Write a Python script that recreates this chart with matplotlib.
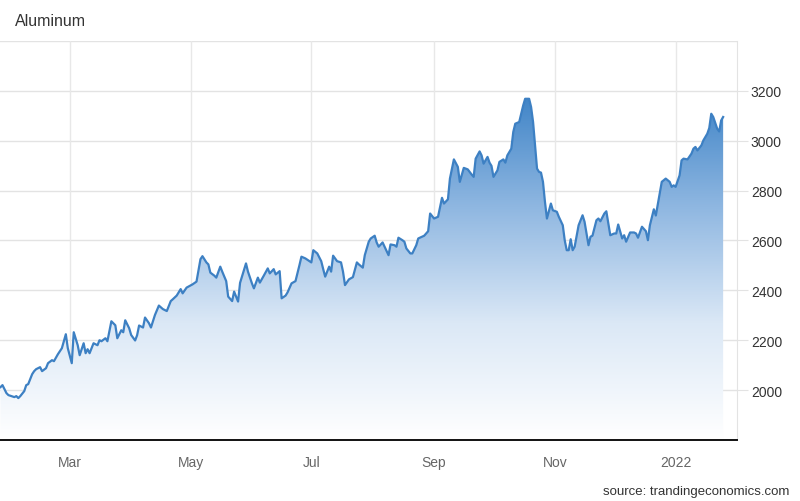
import numpy as np
import pandas as pd
import matplotlib
matplotlib.use('Agg')
import matplotlib.pyplot as plt
import matplotlib.dates as mdates
from matplotlib.colors import LinearSegmentedColormap

plt.rcParams['font.family'] = ['Liberation Sans', 'DejaVu Sans']

# Aluminum, USD/T, daily
dates = [
    '2021-01-25', '2021-01-26', '2021-01-28', '2021-01-29',
    '2021-02-01', '2021-02-02', '2021-02-03', '2021-02-04', '2021-02-06', '2021-02-07', '2021-02-08',
    '2021-02-10', '2021-02-11', '2021-02-12', '2021-02-14', '2021-02-15', '2021-02-17', '2021-02-18',
    '2021-02-20', '2021-02-21', '2021-02-23', '2021-02-24', '2021-02-25', '2021-02-27', '2021-02-28',
    '2021-03-02', '2021-03-03', '2021-03-05', '2021-03-06', '2021-03-08', '2021-03-09', '2021-03-10',
    '2021-03-11', '2021-03-13', '2021-03-15', '2021-03-16', '2021-03-17', '2021-03-19', '2021-03-20',
    '2021-03-22', '2021-03-24', '2021-03-25', '2021-03-27', '2021-03-28', '2021-03-29', '2021-03-31',
    '2021-04-01', '2021-04-03', '2021-04-04', '2021-04-05', '2021-04-07', '2021-04-08', '2021-04-10',
    '2021-04-11', '2021-04-13', '2021-04-15', '2021-04-17', '2021-04-19', '2021-04-21', '2021-04-22',
    '2021-04-24', '2021-04-26', '2021-04-27', '2021-04-29',
    '2021-05-02', '2021-05-04', '2021-05-06', '2021-05-07', '2021-05-09', '2021-05-10', '2021-05-11',
    '2021-05-13', '2021-05-14', '2021-05-16', '2021-05-17', '2021-05-19', '2021-05-20', '2021-05-22',
    '2021-05-23', '2021-05-25', '2021-05-26', '2021-05-29', '2021-05-30',
    '2021-06-01', '2021-06-02', '2021-06-04', '2021-06-05', '2021-06-07', '2021-06-09', '2021-06-10',
    '2021-06-12', '2021-06-13', '2021-06-15', '2021-06-16', '2021-06-18', '2021-06-19', '2021-06-21',
    '2021-06-23', '2021-06-25', '2021-06-26', '2021-06-28',
    '2021-07-01', '2021-07-02', '2021-07-04', '2021-07-06', '2021-07-07', '2021-07-08', '2021-07-10',
    '2021-07-11', '2021-07-12', '2021-07-14', '2021-07-16', '2021-07-17', '2021-07-18', '2021-07-20',
    '2021-07-22', '2021-07-24', '2021-07-25', '2021-07-27', '2021-07-28', '2021-07-30', '2021-07-31',
    '2021-08-02', '2021-08-03', '2021-08-04', '2021-08-06', '2021-08-07', '2021-08-09', '2021-08-10',
    '2021-08-12', '2021-08-13', '2021-08-14', '2021-08-16', '2021-08-17', '2021-08-18', '2021-08-20',
    '2021-08-21', '2021-08-23', '2021-08-24', '2021-08-27', '2021-08-29', '2021-08-30',
    '2021-09-01', '2021-09-03', '2021-09-05', '2021-09-06', '2021-09-08', '2021-09-09', '2021-09-11',
    '2021-09-13', '2021-09-14', '2021-09-16', '2021-09-18', '2021-09-20', '2021-09-21', '2021-09-22',
    '2021-09-24', '2021-09-25', '2021-09-26', '2021-09-28', '2021-09-29', '2021-09-30',
    '2021-10-01', '2021-10-03', '2021-10-04', '2021-10-06', '2021-10-07', '2021-10-08', '2021-10-10',
    '2021-10-11', '2021-10-12', '2021-10-14', '2021-10-15', '2021-10-16', '2021-10-17', '2021-10-19',
    '2021-10-20', '2021-10-21', '2021-10-23', '2021-10-24', '2021-10-25', '2021-10-26', '2021-10-27',
    '2021-10-28', '2021-10-30', '2021-10-31',
    '2021-11-02', '2021-11-03', '2021-11-05', '2021-11-06', '2021-11-07', '2021-11-08', '2021-11-09',
    '2021-11-10', '2021-11-11', '2021-11-13', '2021-11-15', '2021-11-16', '2021-11-18', '2021-11-19',
    '2021-11-20', '2021-11-22', '2021-11-23', '2021-11-24', '2021-11-26', '2021-11-27', '2021-11-29',
    '2021-12-01', '2021-12-02', '2021-12-03', '2021-12-05', '2021-12-06', '2021-12-07', '2021-12-09',
    '2021-12-11', '2021-12-12', '2021-12-13', '2021-12-15', '2021-12-17', '2021-12-18', '2021-12-19',
    '2021-12-21', '2021-12-22', '2021-12-24', '2021-12-25', '2021-12-27', '2021-12-29', '2021-12-30',
    '2021-12-31',
    '2022-01-01', '2022-01-03', '2022-01-04', '2022-01-05', '2022-01-07', '2022-01-09', '2022-01-10',
    '2022-01-11', '2022-01-12', '2022-01-14', '2022-01-15', '2022-01-17', '2022-01-18', '2022-01-19',
    '2022-01-20', '2022-01-22', '2022-01-23', '2022-01-24', '2022-01-25',
]
prices = [
    2012, 2020, 1988, 1980,
    1972, 1976, 1968, 1976, 1996, 2020, 2024,
    2064, 2076, 2084, 2092, 2076, 2088, 2108,
    2120, 2116, 2144, 2156, 2168, 2224, 2168,
    2108, 2232, 2180, 2140, 2188, 2148, 2164,
    2148, 2188, 2180, 2200, 2196, 2208, 2196,
    2276, 2260, 2208, 2240, 2232, 2280, 2248,
    2221, 2199, 2220, 2259, 2251, 2291, 2268,
    2251, 2301, 2339, 2325, 2317, 2357, 2364,
    2379, 2405, 2388, 2411,
    2424, 2435, 2525, 2537, 2512, 2504, 2471,
    2459, 2451, 2495, 2475, 2437, 2375, 2357,
    2395, 2355, 2430, 2508, 2475,
    2428, 2408, 2451, 2431, 2459, 2488, 2468,
    2485, 2464, 2477, 2368, 2379, 2392, 2428,
    2437, 2501, 2535, 2528,
    2512, 2561, 2548, 2517, 2485, 2455, 2495,
    2475, 2539, 2517, 2512, 2475, 2421, 2444,
    2453, 2512, 2504, 2491, 2541, 2595, 2608,
    2619, 2592, 2575, 2592, 2575, 2541, 2584,
    2581, 2575, 2611, 2601, 2595, 2568, 2548,
    2548, 2581, 2608, 2619, 2637, 2708,
    2688, 2695, 2771, 2748, 2765, 2848, 2925,
    2895, 2835, 2891, 2885, 2864, 2855, 2928,
    2957, 2941, 2908, 2935, 2912, 2899,
    2855, 2881, 2915, 2925, 2912, 2941, 2968,
    3035, 3068, 3075, 3108, 3141, 3168, 3168,
    3135, 3075, 2888, 2875, 2872, 2835, 2755,
    2688, 2748, 2721,
    2715, 2695, 2661, 2600, 2561, 2561, 2605,
    2561, 2575, 2661, 2701, 2675, 2581, 2615,
    2619, 2681, 2688, 2677, 2708, 2717, 2621,
    2628, 2628, 2664, 2608, 2621, 2595, 2632,
    2632, 2628, 2611, 2655, 2637, 2601, 2661,
    2725, 2700, 2790, 2835, 2848, 2835, 2815,
    2821,
    2815, 2861, 2921, 2928, 2925, 2948, 2968,
    2975, 2961, 2981, 3001, 3028, 3051, 3108,
    3095, 3048, 3037, 3081, 3095,
]
y_ticks = [2000, 2200, 2400, 2600, 2800, 3000, 3200]
month_ticks = ['2021-03-01', '2021-05-01', '2021-07-01', '2021-09-01', '2021-11-01', '2022-01-01']
month_labels = ['Mar', 'May', 'Jul', 'Sep', 'Nov', '2022']

x = pd.to_datetime(dates)
y = np.array(prices)
xn = mdates.date2num(x)

fig = plt.figure(figsize=(8, 5.02), dpi=100)
ax = fig.add_axes([0, 0.1215, 0.92125, 0.795])

x0 = mdates.date2num(pd.Timestamp('2021-01-24 18:00'))
x1 = mdates.date2num(pd.Timestamp('2022-02-01'))
ymin, ymax = 1800, 3400
ax.set_xlim(x0, x1)
ax.set_ylim(ymin, ymax)

# gradient area under the line
cmap = LinearSegmentedColormap.from_list('fill', ['#ffffff', '#dbe8f6', '#8fb7e1', '#3c82c6'])
grad = np.linspace(0, 1, 256).reshape(-1, 1)
img = ax.imshow(grad, extent=[x0, x1, ymin, 3200], origin='lower', aspect='auto',
                cmap=cmap, zorder=1)
poly = ax.fill_between(xn, y, ymin, color='none', lw=0)
clip = poly.get_paths()[0]
img.set_clip_path(clip, transform=ax.transData)

ax.plot(xn, y, color='#3d80c3', lw=1.6, zorder=3, solid_joinstyle='round')

# grid
for v in y_ticks + [3400]:
    ax.axhline(v, color='#e3e3e3', lw=1, zorder=0)
for d in month_ticks:
    ax.axvline(mdates.date2num(pd.Timestamp(d)), color='#e8e8e8', lw=1, zorder=0)

for s in ['top', 'left']:
    ax.spines[s].set_visible(False)
ax.spines['right'].set_color('#e3e3e3')
ax.spines['bottom'].set_color('#111111')
ax.spines['bottom'].set_linewidth(1.4)
ax.spines['bottom'].set_zorder(4)

ax.yaxis.tick_right()
ax.set_yticks(y_ticks)
ax.set_yticklabels([str(v) for v in y_ticks])
ax.tick_params(axis='y', length=8, color='#e3e3e3', labelsize=10, labelcolor='#333333', pad=2)
ax.set_xticks([mdates.date2num(pd.Timestamp(d)) for d in month_ticks])
ax.set_xticklabels(month_labels)
ax.tick_params(axis='x', length=0, labelsize=10, labelcolor='#666666', pad=11)

fig.text(15 / 800, 1 - 21 / 502, 'Aluminum', fontsize=11.5, color='#333333', va='center', ha='left')
fig.text(789 / 800, 1 - 492 / 502, 'source: trandingeconomics.com', fontsize=9.5,
         color='#333333', va='center', ha='right')

fig.savefig('out.png', dpi=100)
